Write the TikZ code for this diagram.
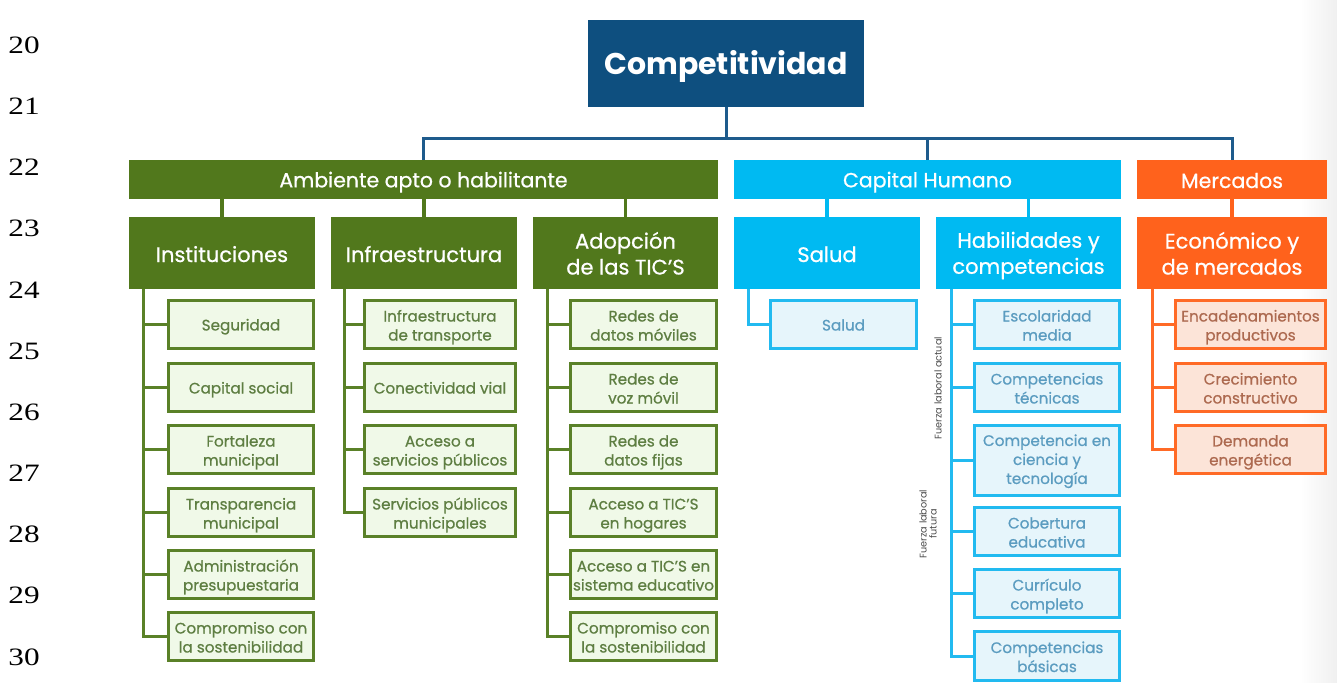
\documentclass[tikz,border=0pt]{standalone}
\usepackage{fontspec}
\setmainfont{Poppins}
\newfontfamily\medfont{Poppins}[FakeBold=0.7]
\newfontfamily\numfont{Liberation Serif}
\definecolor{navy}{HTML}{0E4F7F}
\definecolor{navyline}{HTML}{1E5B8C}
\definecolor{grn}{HTML}{51781C}
\definecolor{grnline}{HTML}{5A8128}
\definecolor{grnfill}{HTML}{F0F9E8}
\definecolor{grntext}{HTML}{5E7E42}
\definecolor{cyn}{HTML}{00BAF2}
\definecolor{cynline}{HTML}{22BAF0}
\definecolor{cynfill}{HTML}{E6F5FB}
\definecolor{cyntext}{HTML}{5B9CC0}
\definecolor{org}{HTML}{FF621C}
\definecolor{orgline}{HTML}{FF6A26}
\definecolor{orgfill}{HTML}{FCE4D8}
\definecolor{orgtext}{HTML}{AD6A50}
\tikzset{
  box/.style={rectangle, inner sep=0pt, align=center, text=white},
  lvlzero/.style={box, fill=navy, font=\bfseries\fontsize{30}{34}\selectfont,
    execute at begin node={\rule{0pt}{30pt}}, execute at end node={\rule[-5pt]{0pt}{5pt}}},
  lvlone/.style={box, minimum height=39pt, font=\medfont\fontsize{20.5}{23}\selectfont,
    execute at begin node={\rule{0pt}{21pt}}, execute at end node={\rule[-4pt]{0pt}{4pt}}},
  lvltwo/.style={box, minimum height=72pt, font=\medfont\fontsize{21}{26}\selectfont,
    execute at begin node={\rule{0pt}{22pt}}, execute at end node={\rule[-4pt]{0pt}{4pt}}},
  mltwo/.style={execute at begin node={\rule{0pt}{47pt}}},
  leaf/.style={rectangle, inner sep=0pt, align=center, line width=3pt, minimum height=48pt,
    font=\medfont\fontsize{15.2}{19}\selectfont,
    execute at begin node={\rule{0pt}{16pt}}, execute at end node={\rule[-4pt]{0pt}{4pt}}},
  ml/.style={execute at begin node={\rule{0pt}{36pt}}},
  mlthree/.style={execute at begin node={\rule{0pt}{51pt}}},
  gleaf/.style={leaf, draw=grnline, fill=grnfill, text=grntext, minimum width=145pt},
  cleaf/.style={leaf, draw=cynline, fill=cynfill, text=cyntext, minimum width=145pt},
  oleaf/.style={leaf, draw=orgline, fill=orgfill, text=orgtext, minimum width=150pt},
  topline/.style={draw=navyline, line width=3pt},
  gconn/.style={draw=grn, line width=3.5pt},
  cconn/.style={draw=cyn, line width=3.5pt},
  oconn/.style={draw=org, line width=3.5pt},
  gtree/.style={draw=grnline, line width=3pt},
  ctree/.style={draw=cynline, line width=3pt},
  otree/.style={draw=orgline, line width=3pt},
  side/.style={rotate=90, align=center, text=black!70, font=\fontsize{9.7}{10}\selectfont, inner sep=0pt},
  linenum/.style={font=\numfont\fontsize{25}{25}\selectfont, xscale=1.25, inner sep=0pt}
}
\begin{document}
\begin{tikzpicture}[x=1pt,y=-1pt]
\useasboundingbox (0,0) rectangle (1337,682);
\shade[left color=white, right color=black!6] (1300,0) rectangle (1337,682);

% line numbers
\foreach \n [count=\k from 0] in {20,...,30}
  \node[linenum] (ln\n) at (24,45+61.2*\k) {\n};

% title
\node[lvlzero, minimum width=276pt, minimum height=87pt] (comp) at (726,63.5) {Competitividad};

% level 1
\node[lvlone, fill=grn, minimum width=589pt] (amb) at (423.5,179.5) {Ambiente apto o habilitante};
\node[lvlone, fill=cyn, minimum width=387pt] (cap) at (927.5,179.5) {Capital Humano};
\node[lvlone, fill=org, minimum width=190pt] (mer) at (1232,179.5) {Mercados};

% level 2
\node[lvltwo, fill=grn, minimum width=186pt] (inst) at (222,253) {Instituciones};
\node[lvltwo, fill=grn, minimum width=186pt] (infra) at (424,253) {Infraestructura};
\node[lvltwo, mltwo, fill=grn, minimum width=185pt] (adop) at (625.5,253) {Adopción\\de las TIC’S};
\node[lvltwo, fill=cyn, minimum width=186pt] (sal) at (827,253) {Salud};
\node[lvltwo, mltwo, fill=cyn, minimum width=185pt] (hab) at (1028.5,253) {Habilidades y\\competencias};
\node[lvltwo, mltwo, fill=org, minimum width=190pt] (eco) at (1232,253) {Económico y\\de mercados};

% top connectors
\coordinate (hb) at (726,138);
\draw[topline] (comp.south) -- (hb);
\draw[topline] (amb.north) -- (amb.north |- hb) -- (mer.north |- hb) -- (mer.north);
\draw[topline] (cap.north |- hb) -- (cap.north);

% level1 -> level2
\draw[gconn] (amb.south -| inst.north) -- (inst.north);
\draw[gconn] (amb.south -| infra.north) -- (infra.north);
\draw[gconn] (amb.south -| adop.north) -- (adop.north);
\draw[cconn] (cap.south -| sal.north) -- (sal.north);
\draw[cconn] (cap.south -| hab.north) -- (hab.north);
\draw[oconn] (mer.south) -- (eco.north);

% trunk tops
\path (inst.south west) ++(15,0) coordinate (tinst);
\path (infra.south west) ++(14,0) coordinate (tinfra);
\path (adop.south west) ++(15,0) coordinate (tadop);
\path (sal.south west) ++(15,0) coordinate (tsal);
\path (hab.south west) ++(16,0) coordinate (thab);
\path (eco.south west) ++(16,0) coordinate (teco);

% Instituciones leaves
\node[gleaf] (i1) at (241,324.5) {Seguridad};
\node[gleaf] (i2) at (241,387.5) {Capital social};
\node[gleaf, ml] (i3) at (241,449.5) {Fortaleza\\municipal};
\node[gleaf, ml] (i4) at (241,512.5) {Transparencia\\municipal};
\node[gleaf, ml] (i5) at (241,574.5) {Administración\\presupuestaria};
\node[gleaf, ml] (i6) at (241,636.5) {Compromiso con\\la sostenibilidad};

% Infraestructura leaves
\node[gleaf, ml, minimum width=151pt] (f1) at (440,324.5) {Infraestructura\\de transporte};
\node[gleaf, minimum width=151pt] (f2) at (440,387.5) {Conectividad vial};
\node[gleaf, ml, minimum width=151pt] (f3) at (440,449.5) {Acceso a\\servicios públicos};
\node[gleaf, ml, minimum width=151pt] (f4) at (440,512.5) {Servicios públicos\\municipales};

% Adopcion leaves
\node[gleaf, ml, minimum width=146pt] (a1) at (643.5,324.5) {Redes de\\datos móviles};
\node[gleaf, ml, minimum width=146pt] (a2) at (643.5,387.5) {Redes de\\voz móvil};
\node[gleaf, ml, minimum width=146pt] (a3) at (643.5,449.5) {Redes de\\datos fijas};
\node[gleaf, ml, minimum width=146pt] (a4) at (643.5,512.5) {Acceso a TIC’S\\en hogares};
\node[gleaf, ml, minimum width=146pt] (a5) at (643.5,574.5) {Acceso a TIC’S en\\sistema educativo};
\node[gleaf, ml, minimum width=146pt] (a6) at (643.5,636.5) {Compromiso con\\la sostenibilidad};

% Salud leaf
\node[cleaf, minimum width=146pt] (s1) at (843.5,324.5) {Salud};

% Habilidades leaves
\node[cleaf, ml] (h1) at (1047,324.5) {Escolaridad\\media};
\node[cleaf, ml] (h2) at (1047,387.5) {Competencias\\técnicas};
\node[cleaf, mlthree, minimum height=70pt] (h3) at (1047,460.5) {Competencia en\\ciencia y\\tecnología};
\node[cleaf, ml] (h4) at (1047,531.5) {Cobertura\\educativa};
\node[cleaf, ml] (h5) at (1047,593.5) {Currículo\\completo};
\node[cleaf, ml, minimum height=49pt] (h6) at (1047,656) {Competencias\\básicas};

% Mercados leaves
\node[oleaf, ml] (m1) at (1250.5,324.5) {Encadenamientos\\productivos};
\node[oleaf, ml] (m2) at (1250.5,387.5) {Crecimiento\\constructivo};
\node[oleaf, ml] (m3) at (1250.5,449.5) {Demanda\\energética};

% trees
\foreach \l in {i1,i2,i3,i4,i5,i6} \draw[gtree] (tinst) |- (\l.west);
\foreach \l in {f1,f2,f3,f4} \draw[gtree] (tinfra) |- (\l.west);
\foreach \l in {a1,a2,a3,a4,a5,a6} \draw[gtree] (tadop) |- (\l.west);
\draw[ctree] (tsal) |- (s1.west);
\foreach \l in {h1,h2,h3,h4,h5,h6} \draw[ctree] (thab) |- (\l.west);
\foreach \l in {m1,m2,m3} \draw[otree] (teco) |- (\l.west);

% side labels
\node[side] (fla) at (938,388) {Fuerza laboral actual};
\node[side] (flf) at (928,524) {Fuerza laboral\\futura};
\end{tikzpicture}
\end{document}
